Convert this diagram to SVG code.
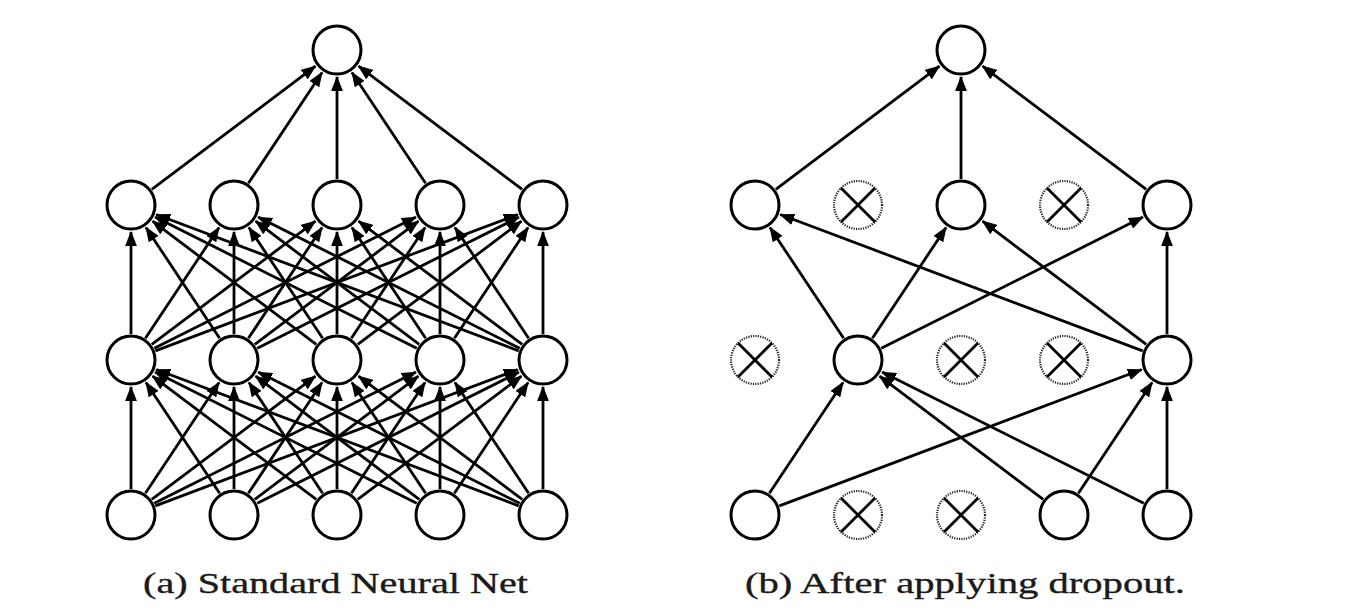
<svg xmlns="http://www.w3.org/2000/svg" width="1372" height="612" viewBox="0 0 1372 612">
<style>
.node{fill:#fff;stroke:#000;stroke-width:3}
.drop{fill:#fff;stroke:#222;stroke-width:2.2;stroke-dasharray:1.2 1.2}
.x{stroke:#000;stroke-width:2.8;fill:none}
.edge{stroke:#000;stroke-width:2.8;fill:none;marker-end:url(#arr)}
.cap{font-family:"Liberation Serif","Times New Roman",serif;font-size:29px;fill:#1a1a1a;stroke:#1a1a1a;stroke-width:0.35}
</style>
<defs>
<marker id="arr" markerUnits="userSpaceOnUse" markerWidth="15" markerHeight="12" viewBox="0 0 14 11" refX="13" refY="5.5" orient="auto">
<path d="M0,0 L14,5.5 L0,11 z" fill="#000"/>
</marker>
</defs>
<rect width="1372" height="612" fill="#fff"/>
<g id="connectors">
<line class="edge" x1="131" y1="489" x2="131" y2="387"/>
<line class="edge" x1="145.39" y1="493.34" x2="219.06" y2="382.49"/>
<line class="edge" x1="151.78" y1="499.37" x2="315.42" y2="376.23"/>
<line class="edge" x1="154.24" y1="503.34" x2="415.87" y2="372.11"/>
<line class="edge" x1="155.34" y1="505.85" x2="517.73" y2="369.51"/>
<line class="edge" x1="219.61" y1="493.34" x2="145.94" y2="382.49"/>
<line class="edge" x1="234" y1="489" x2="234" y2="387"/>
<line class="edge" x1="248.39" y1="493.34" x2="322.06" y2="382.49"/>
<line class="edge" x1="254.78" y1="499.37" x2="418.42" y2="376.23"/>
<line class="edge" x1="257.24" y1="503.34" x2="518.87" y2="372.11"/>
<line class="edge" x1="316.22" y1="499.37" x2="152.58" y2="376.23"/>
<line class="edge" x1="322.61" y1="493.34" x2="248.94" y2="382.49"/>
<line class="edge" x1="337" y1="489" x2="337" y2="387"/>
<line class="edge" x1="351.39" y1="493.34" x2="425.06" y2="382.49"/>
<line class="edge" x1="357.78" y1="499.37" x2="521.42" y2="376.23"/>
<line class="edge" x1="416.76" y1="503.34" x2="155.13" y2="372.11"/>
<line class="edge" x1="419.22" y1="499.37" x2="255.58" y2="376.23"/>
<line class="edge" x1="425.61" y1="493.34" x2="351.94" y2="382.49"/>
<line class="edge" x1="440" y1="489" x2="440" y2="387"/>
<line class="edge" x1="454.39" y1="493.34" x2="528.06" y2="382.49"/>
<line class="edge" x1="518.66" y1="505.85" x2="156.27" y2="369.51"/>
<line class="edge" x1="519.76" y1="503.34" x2="258.13" y2="372.11"/>
<line class="edge" x1="522.22" y1="499.37" x2="358.58" y2="376.23"/>
<line class="edge" x1="528.61" y1="493.34" x2="454.94" y2="382.49"/>
<line class="edge" x1="543" y1="489" x2="543" y2="387"/>
<line class="edge" x1="131" y1="334" x2="131" y2="232"/>
<line class="edge" x1="145.39" y1="338.34" x2="219.06" y2="227.49"/>
<line class="edge" x1="151.78" y1="344.37" x2="315.42" y2="221.23"/>
<line class="edge" x1="154.24" y1="348.34" x2="415.87" y2="217.11"/>
<line class="edge" x1="155.34" y1="350.85" x2="517.73" y2="214.51"/>
<line class="edge" x1="219.61" y1="338.34" x2="145.94" y2="227.49"/>
<line class="edge" x1="234" y1="334" x2="234" y2="232"/>
<line class="edge" x1="248.39" y1="338.34" x2="322.06" y2="227.49"/>
<line class="edge" x1="254.78" y1="344.37" x2="418.42" y2="221.23"/>
<line class="edge" x1="257.24" y1="348.34" x2="518.87" y2="217.11"/>
<line class="edge" x1="316.22" y1="344.37" x2="152.58" y2="221.23"/>
<line class="edge" x1="322.61" y1="338.34" x2="248.94" y2="227.49"/>
<line class="edge" x1="337" y1="334" x2="337" y2="232"/>
<line class="edge" x1="351.39" y1="338.34" x2="425.06" y2="227.49"/>
<line class="edge" x1="357.78" y1="344.37" x2="521.42" y2="221.23"/>
<line class="edge" x1="416.76" y1="348.34" x2="155.13" y2="217.11"/>
<line class="edge" x1="419.22" y1="344.37" x2="255.58" y2="221.23"/>
<line class="edge" x1="425.61" y1="338.34" x2="351.94" y2="227.49"/>
<line class="edge" x1="440" y1="334" x2="440" y2="232"/>
<line class="edge" x1="454.39" y1="338.34" x2="528.06" y2="227.49"/>
<line class="edge" x1="518.66" y1="350.85" x2="156.27" y2="214.51"/>
<line class="edge" x1="519.76" y1="348.34" x2="258.13" y2="217.11"/>
<line class="edge" x1="522.22" y1="344.37" x2="358.58" y2="221.23"/>
<line class="edge" x1="528.61" y1="338.34" x2="454.94" y2="227.49"/>
<line class="edge" x1="543" y1="334" x2="543" y2="232"/>
<line class="edge" x1="151.78" y1="189.37" x2="315.42" y2="66.23"/>
<line class="edge" x1="248.39" y1="183.34" x2="322.06" y2="72.49"/>
<line class="edge" x1="337" y1="179" x2="337" y2="77"/>
<line class="edge" x1="425.61" y1="183.34" x2="351.94" y2="72.49"/>
<line class="edge" x1="522.22" y1="189.37" x2="358.58" y2="66.23"/>
<line class="edge" x1="775.78" y1="189.37" x2="939.42" y2="66.23"/>
<line class="edge" x1="961" y1="179" x2="961" y2="77"/>
<line class="edge" x1="1146.22" y1="189.37" x2="982.58" y2="66.23"/>
<line class="edge" x1="843.61" y1="338.34" x2="769.94" y2="227.49"/>
<line class="edge" x1="1142.66" y1="350.85" x2="780.27" y2="214.51"/>
<line class="edge" x1="872.39" y1="338.34" x2="946.06" y2="227.49"/>
<line class="edge" x1="1146.22" y1="344.37" x2="982.58" y2="221.23"/>
<line class="edge" x1="881.24" y1="348.34" x2="1142.87" y2="217.11"/>
<line class="edge" x1="1167" y1="334" x2="1167" y2="232"/>
<line class="edge" x1="769.39" y1="493.34" x2="843.06" y2="382.49"/>
<line class="edge" x1="1043.22" y1="499.37" x2="879.58" y2="376.23"/>
<line class="edge" x1="1143.76" y1="503.34" x2="882.13" y2="372.11"/>
<line class="edge" x1="779.34" y1="505.85" x2="1141.73" y2="369.51"/>
<line class="edge" x1="1078.39" y1="493.34" x2="1152.06" y2="382.49"/>
<line class="edge" x1="1167" y1="489" x2="1167" y2="387"/>
</g>
<g id="a-out"><circle class="node" cx="337" cy="50" r="24"/></g>
<g id="a-h1-0"><circle class="node" cx="131" cy="205" r="24"/></g>
<g id="a-h1-1"><circle class="node" cx="234" cy="205" r="24"/></g>
<g id="a-h1-2"><circle class="node" cx="337" cy="205" r="24"/></g>
<g id="a-h1-3"><circle class="node" cx="440" cy="205" r="24"/></g>
<g id="a-h1-4"><circle class="node" cx="543" cy="205" r="24"/></g>
<g id="a-h2-0"><circle class="node" cx="131" cy="360" r="24"/></g>
<g id="a-h2-1"><circle class="node" cx="234" cy="360" r="24"/></g>
<g id="a-h2-2"><circle class="node" cx="337" cy="360" r="24"/></g>
<g id="a-h2-3"><circle class="node" cx="440" cy="360" r="24"/></g>
<g id="a-h2-4"><circle class="node" cx="543" cy="360" r="24"/></g>
<g id="a-in-0"><circle class="node" cx="131" cy="515" r="24"/></g>
<g id="a-in-1"><circle class="node" cx="234" cy="515" r="24"/></g>
<g id="a-in-2"><circle class="node" cx="337" cy="515" r="24"/></g>
<g id="a-in-3"><circle class="node" cx="440" cy="515" r="24"/></g>
<g id="a-in-4"><circle class="node" cx="543" cy="515" r="24"/></g>
<g id="b-out"><circle class="node" cx="961" cy="50" r="24"/></g>
<g id="b-h1-0"><circle class="node" cx="755" cy="205" r="24"/></g>
<g id="b-h1-1"><circle class="drop" cx="858" cy="205" r="24"/><path class="x" d="M841,188 L875,222 M875,188 L841,222"/></g>
<g id="b-h1-2"><circle class="node" cx="961" cy="205" r="24"/></g>
<g id="b-h1-3"><circle class="drop" cx="1064" cy="205" r="24"/><path class="x" d="M1047,188 L1081,222 M1081,188 L1047,222"/></g>
<g id="b-h1-4"><circle class="node" cx="1167" cy="205" r="24"/></g>
<g id="b-h2-0"><circle class="drop" cx="755" cy="360" r="24"/><path class="x" d="M738,343 L772,377 M772,343 L738,377"/></g>
<g id="b-h2-1"><circle class="node" cx="858" cy="360" r="24"/></g>
<g id="b-h2-2"><circle class="drop" cx="961" cy="360" r="24"/><path class="x" d="M944,343 L978,377 M978,343 L944,377"/></g>
<g id="b-h2-3"><circle class="drop" cx="1064" cy="360" r="24"/><path class="x" d="M1047,343 L1081,377 M1081,343 L1047,377"/></g>
<g id="b-h2-4"><circle class="node" cx="1167" cy="360" r="24"/></g>
<g id="b-in-0"><circle class="node" cx="755" cy="515" r="24"/></g>
<g id="b-in-1"><circle class="drop" cx="858" cy="515" r="24"/><path class="x" d="M841,498 L875,532 M875,498 L841,532"/></g>
<g id="b-in-2"><circle class="drop" cx="961" cy="515" r="24"/><path class="x" d="M944,498 L978,532 M978,498 L944,532"/></g>
<g id="b-in-3"><circle class="node" cx="1064" cy="515" r="24"/></g>
<g id="b-in-4"><circle class="node" cx="1167" cy="515" r="24"/></g>
<text class="cap" x="143" y="593" textLength="385" lengthAdjust="spacingAndGlyphs">(a) Standard Neural Net</text>
<text class="cap" x="745" y="593" textLength="440" lengthAdjust="spacingAndGlyphs">(b) After applying dropout.</text>
</svg>
